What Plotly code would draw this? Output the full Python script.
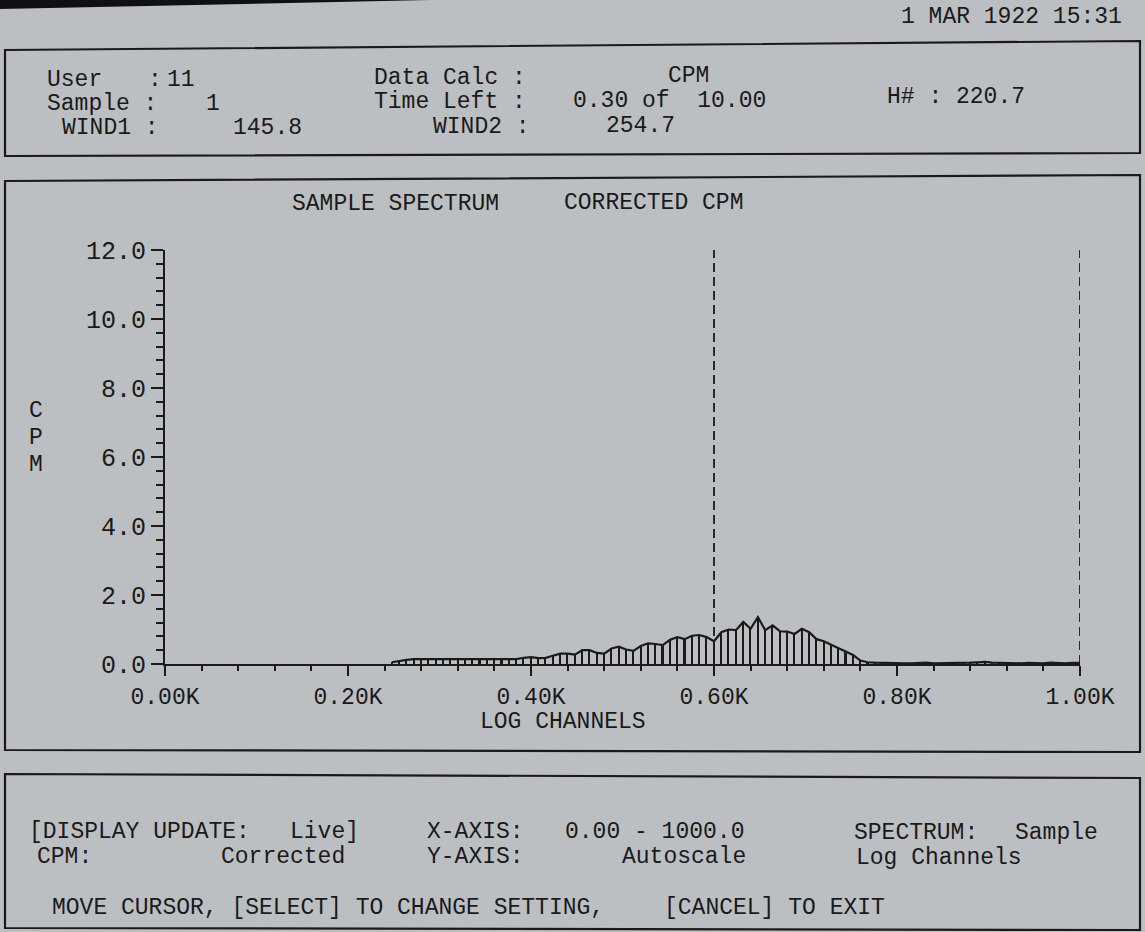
import plotly.graph_objects as go

# ---------------- data ----------------
channels = list(range(248, 1001, 8))
cpm = [
    0.05, 0.09, 0.12, 0.14, 0.14, 0.15, 0.14, 0.14, 0.13, 0.14, 0.15, 0.14, 0.14, 0.13,
    0.14, 0.14, 0.15, 0.14,                                   # 248..384
    0.18, 0.20, 0.17, 0.18, 0.24, 0.30, 0.30, 0.27, 0.40, 0.40,  # 392..464
    0.32, 0.30, 0.45, 0.50, 0.42, 0.38, 0.52, 0.60, 0.58, 0.55,  # 472..544
    0.70, 0.78, 0.72, 0.82, 0.84, 0.78, 0.66, 0.92, 1.00, 0.98,  # 552..624
    1.22, 1.02, 1.36, 0.98, 1.12, 0.95, 0.94, 0.87, 1.02, 0.92,  # 632..704
    0.72, 0.66, 0.56, 0.46, 0.37, 0.26, 0.10, 0.05,              # 712..768
    0.04, 0.03, 0.02, 0.03, 0.02, 0.02, 0.03, 0.04, 0.02, 0.02,  # 776..848
    0.03, 0.02, 0.02, 0.04, 0.05, 0.06, 0.04, 0.03, 0.02, 0.02,  # 856..928
    0.02, 0.03, 0.02, 0.02, 0.04, 0.02, 0.02, 0.03, 0.03,        # 936..1000
]
cpm = cpm[:len(channels)]
while len(cpm) < len(channels):
    cpm.append(0.02)

window_channels = [600, 1000]
x_tick_vals = [0, 200, 400, 600, 800, 1000]
x_tick_text = ["0.00K", "0.20K", "0.40K", "0.60K", "0.80K", "1.00K"]

# ---------------- style ----------------
BG = "#bcbfc2"
INK = "#1a1a1a"
FONT = "Liberation Mono"
FS = 23

W, H = 1145, 932
PL, PR, PT, PB = 165, 1080, 250, 664


def px(x):
    return (x - PL) / (PR - PL)


def py(y):
    return (PB - y) / (PB - PT)


fig = go.Figure()

# vertical hatch bars
fig.add_trace(go.Bar(
    x=channels, y=cpm, width=1.7,
    marker=dict(color=INK, line=dict(width=0)),
    hoverinfo="skip", showlegend=False,
))
# envelope
fig.add_trace(go.Scatter(
    x=channels, y=cpm, mode="lines",
    line=dict(color=INK, width=2.2),
    hoverinfo="skip", showlegend=False,
))

shapes = []
# window cursors (dashed)
for wc in window_channels:
    shapes.append(dict(type="line", xref="x", yref="y", x0=wc, x1=wc, y0=0, y1=12.1,
                       line=dict(color=INK, width=1.8, dash="9px,5px")))


def poly(points, width=2.2):
    d = "M " + " L ".join(f"{px(a):.5f},{py(b):.5f}" for a, b in points) + " Z"
    return dict(type="path", xref="paper", yref="paper", path=d,
                line=dict(color=INK, width=width), fillcolor="rgba(0,0,0,0)", layer="above")


shapes.append(poly([(5, 50), (1140, 41), (1140, 153), (5, 156)]))
shapes.append(poly([(5, 181), (1140, 175), (1140, 752), (5, 750)]))
shapes.append(poly([(5, 774), (1140, 778), (1140, 930), (5, 928)]))
# dark photo corner at top left
shapes.append(dict(type="path", xref="paper", yref="paper",
                   path=f"M {px(0)},{py(0)} L {px(430)},{py(0)} L {px(0)},{py(9)} Z",
                   line=dict(width=0), fillcolor="#101010", layer="above"))

annotations = []


def txt(s, x, y, size=FS, anchor="left"):
    annotations.append(dict(text=s.replace(" ", "\u00a0"), x=px(x), y=py(y),
                            xref="paper", yref="paper", xanchor=anchor, yanchor="middle",
                            showarrow=False, font=dict(family=FONT, size=size, color=INK)))


# date
txt("1 MAR 1922 15:31", 1124, 17, anchor="right")
# header panel
txt("User", 45, 80); txt(":", 146, 80); txt("11", 165, 80)
txt("Data Calc :", 372, 78); txt("CPM", 666, 76)
txt("Sample :", 45, 104); txt("1", 204, 104)
txt("Time Left :", 372, 102); txt("0.30 of  10.00", 571, 101)
txt("H# : 220.7", 885, 97)
txt("WIND1 :", 60, 128); txt("145.8", 231, 128)
txt("WIND2 :", 431, 127); txt("254.7", 604, 126)
# chart panel
txt("SAMPLE SPECTRUM", 290, 204); txt("CORRECTED CPM", 562, 203)
txt("C", 36, 411, anchor="center"); txt("P", 36, 438, anchor="center"); txt("M", 36, 465, anchor="center")
txt("LOG CHANNELS", 563, 722, anchor="center")
# bottom panel
txt("[DISPLAY UPDATE:", 27, 832); txt("Live]", 288, 832)
txt("X-AXIS:", 425, 832); txt("0.00 - 1000.0", 563, 832)
txt("SPECTRUM:", 852, 833); txt("Sample", 1013, 833)
txt("CPM:", 35, 857); txt("Corrected", 219, 857)
txt("Y-AXIS:", 425, 857); txt("Autoscale", 620, 857)
txt("Log Channels", 854, 858)
txt("MOVE CURSOR, [SELECT] TO CHANGE SETTING,", 50, 908)
txt("[CANCEL] TO EXIT", 662, 908)

fig.update_layout(
    width=W, height=H, autosize=False,
    margin=dict(l=PL, r=W - PR, t=PT, b=H - PB, pad=0),
    paper_bgcolor=BG, plot_bgcolor=BG,
    bargap=0, showlegend=False,
    font=dict(family=FONT, size=FS, color=INK),
    shapes=shapes, annotations=annotations,
    xaxis=dict(
        range=[0, 1000], showgrid=False, zeroline=False,
        showline=True, linecolor=INK, linewidth=2,
        tickmode="array", tickvals=x_tick_vals, ticktext=x_tick_text,
        ticks="outside", ticklen=10, tickwidth=2, tickcolor=INK,
        tickfont=dict(family=FONT, size=FS, color=INK),
        minor=dict(tickmode="linear", tick0=0, dtick=40, ticks="outside", ticklen=5,
                   tickwidth=1.6, tickcolor=INK, showgrid=False),
        fixedrange=True,
    ),
    yaxis=dict(
        range=[0, 12], showgrid=False, zeroline=False,
        showline=True, linecolor=INK, linewidth=2,
        tickmode="linear", tick0=0, dtick=2, tickformat=".1f",
        ticks="outside", ticklen=12, tickwidth=2, tickcolor=INK,
        tickfont=dict(family=FONT, size=25, color=INK),
        minor=dict(tickmode="linear", tick0=0, dtick=0.4, ticks="outside", ticklen=7,
                   tickwidth=1.6, tickcolor=INK, showgrid=False),
        fixedrange=True,
    ),
)

fig.write_html(
    "out.html",
    config={"displayModeBar": False},
    post_script="document.body.style.margin='0';document.body.style.overflow='hidden';"
                "document.body.style.background='" + BG + "';",
)
